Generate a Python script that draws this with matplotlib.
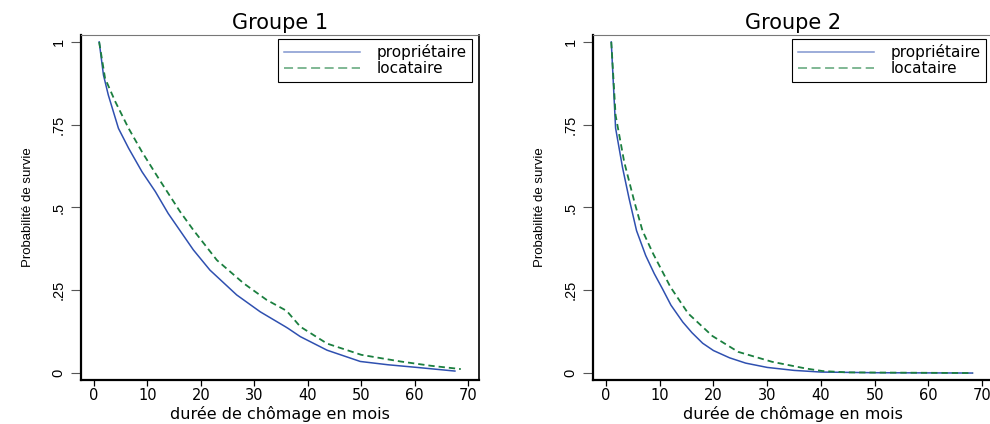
import matplotlib
matplotlib.use("Agg")
import matplotlib.pyplot as plt

# Courbes de survie
g1_prop_t = [1, 1.8, 2.7, 4.6, 6.5, 9.0, 11.5, 13.9, 18.6, 21.7, 26.7, 31.1, 35.8,
             36.3, 38.6, 43.6, 49.8, 55.0, 60.4, 67.5]
g1_prop_s = [1.0, 0.90, 0.84, 0.739, 0.679, 0.608, 0.548, 0.482, 0.372, 0.311, 0.236,
             0.185, 0.140, 0.135, 0.110, 0.069, 0.035, 0.025, 0.017, 0.006]

g1_loc_t = [1, 2.1, 4.0, 6.5, 9.0, 12.1, 16.1, 18.6, 23.0, 28.0, 32.3, 35.8, 36.3,
            38.6, 43.6, 50.0, 57.3, 63.0, 68.6]
g1_loc_s = [1.0, 0.89, 0.82, 0.739, 0.668, 0.588, 0.488, 0.432, 0.341, 0.271, 0.221,
            0.190, 0.183, 0.140, 0.089, 0.055, 0.035, 0.022, 0.012]

g2_prop_t = [1, 1.8, 3.1, 4.3, 5.7, 7.4, 9.0, 10.5, 12.1, 14.3, 16.0, 18.0, 20.0,
             23.0, 26.0, 30.0, 35.0, 40.0, 50.0, 68.2]
g2_prop_s = [1.0, 0.74, 0.62, 0.528, 0.43, 0.355, 0.30, 0.255, 0.205, 0.154, 0.122,
             0.09, 0.068, 0.046, 0.030, 0.017, 0.008, 0.003, 0.001, 0.0]

g2_loc_t = [1, 1.8, 3.4, 5.3, 6.8, 8.8, 12.0, 15.3, 19.8, 24.6, 30.9, 37.1, 40.3,
            45.0, 68.2]
g2_loc_s = [1.0, 0.779, 0.638, 0.517, 0.43, 0.36, 0.26, 0.18, 0.112, 0.064, 0.034,
            0.014, 0.006, 0.002, 0.0]

titles = ["Groupe 1", "Groupe 2"]
labels = ["propriétaire", "locataire"]
yticks = [0, 0.25, 0.5, 0.75, 1]
yticklabels = ["0", ".25", ".5", ".75", "1"]
xticks = [0, 10, 20, 30, 40, 50, 60, 70]

blue = "#2f50b0"
green = "#1b7f3f"

fig = plt.figure(figsize=(9.9, 4.24), dpi=100)
ax1 = fig.add_axes([81 / 990, 44 / 424, 398 / 990, 345 / 424])
ax2 = fig.add_axes([593 / 990, 44 / 424, 400 / 990, 345 / 424])

panels = [
    (ax1, g1_prop_t, g1_prop_s, g1_loc_t, g1_loc_s),
    (ax2, g2_prop_t, g2_prop_s, g2_loc_t, g2_loc_s),
]

for i, (ax, pt, ps, lt, ls) in enumerate(panels):
    ax.plot(pt, ps, color=blue, lw=1.1, label=labels[0])
    ax.plot(lt, ls, color=green, lw=1.3, dashes=(3.5, 2.2), label=labels[1])

    ax.set_xlim(-2.4, 72.0)
    ax.set_ylim(-0.021, 1.021)
    ax.set_xticks(xticks)
    ax.set_yticks(yticks)
    ax.set_yticklabels(yticklabels, rotation=90, va="center",
                       family="Liberation Sans", fontsize=10.5)
    ax.set_xticklabels([str(x) for x in xticks], family="DejaVu Sans", fontsize=10.5)
    ax.tick_params(axis="y", length=7, width=0.8, color="#555555", pad=4)
    ax.tick_params(axis="x", length=4, width=0.9, color="black", pad=2)

    ax.spines["left"].set_linewidth(1.6)
    ax.spines["bottom"].set_linewidth(1.6)
    ax.spines["right"].set_linewidth(1.2)
    ax.spines["top"].set_linewidth(0.8)
    ax.spines["top"].set_color("#777777")

    ax.set_title(titles[i], family="DejaVu Sans", fontsize=15, pad=4)
    ax.set_xlabel("durée de chômage en mois", family="DejaVu Sans", fontsize=11.5,
                  labelpad=2)
    ax.set_ylabel("Probabilité de survie", family="Liberation Sans", fontsize=9.5,
                  labelpad=13)

    leg = ax.legend(loc="upper right", bbox_to_anchor=(0.983, 0.988), frameon=True,
                    fancybox=False, edgecolor="black", framealpha=1,
                    prop={"family": "DejaVu Sans", "size": 11},
                    handlelength=5.0, handletextpad=1.1, borderpad=0.35,
                    labelspacing=0.05, borderaxespad=0)
    leg.get_frame().set_linewidth(0.8)
    leg_lines = leg.get_lines()
    leg_lines[0].set_alpha(0.6)
    leg_lines[1].set_alpha(0.6)
    leg_lines[1].set_dashes((5, 2.5))

fig.savefig("out.png", dpi=100)
